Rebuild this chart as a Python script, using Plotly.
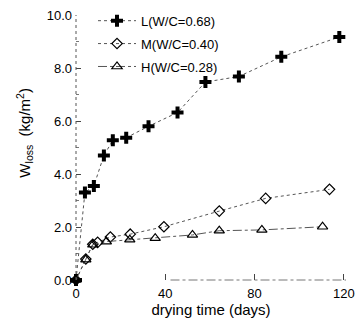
import plotly.graph_objects as go

# drying time (days) and mass loss (kg/m^2)
L_days = [0, 4, 8, 12.5, 16.5, 22.5, 32.5, 45.5, 58, 73, 92, 118]
L_loss = [0, 3.3, 3.55, 4.7, 5.27, 5.37, 5.8, 6.32, 7.47, 7.68, 8.42, 9.17]

M_days = [0, 4.4, 7.5, 9.7, 15.4, 24.3, 39.4, 64.2, 85, 113.6]
M_loss = [0, 0.79, 1.35, 1.42, 1.62, 1.73, 2.01, 2.6, 3.08, 3.42]

H_days = [0, 4.4, 7.5, 13.6, 24.1, 35.5, 52.2, 64.2, 83.3, 110.5]
H_loss = [0, 0.77, 1.33, 1.45, 1.52, 1.58, 1.7, 1.86, 1.89, 2.01]

names = ["L(W/C=0.68)", "M(W/C=0.40)", "H(W/C=0.28)"]
x_ticks = [0, 40, 80, 120]
y_ticks = [0, 2, 4, 6, 8, 10]
y_tick_text = ["0.0", "2.0", "4.0", "6.0", "8.0", "10.0"]

FONT = "Liberation Sans, Arial, sans-serif"

fig = go.Figure()
fig.add_trace(go.Scatter(
    x=L_days, y=L_loss, name=names[0], mode="lines+markers", legendgroup="L",
    line=dict(color="#555555", width=1, dash="dot"),
    marker=dict(symbol="cross", size=10, color="black", line=dict(width=0)),
    cliponaxis=False))
fig.add_trace(go.Scatter(
    x=M_days, y=M_loss, name=names[1], mode="lines+markers", legendgroup="M",
    line=dict(color="#555555", width=1, dash="dot"),
    marker=dict(symbol="diamond-open", size=8, color="black", line=dict(width=1.2)),
    cliponaxis=False))
fig.add_trace(go.Scatter(
    x=H_days, y=H_loss, name=names[2], mode="lines+markers", legendgroup="H",
    line=dict(color="#555555", width=1, dash="dashdot"),
    marker=dict(symbol="triangle-up-open", size=9, color="black", line=dict(width=1.2)),
    cliponaxis=False))

fig.update_layout(
    width=355, height=313,
    margin=dict(l=68, r=17, t=7, b=41, autoexpand=False),
    paper_bgcolor="white", plot_bgcolor="white",
    font=dict(family=FONT, size=13, color="black"),
    showlegend=True,
    legend=dict(x=0.063, y=1.035, xanchor="left", yanchor="top",
                bgcolor="rgba(0,0,0,0)", font=dict(size=13),
                itemwidth=38, tracegroupgap=3),
    xaxis=dict(range=[0, 121], tickvals=x_ticks, ticks="inside", ticklen=6,
               tickcolor="#444", showgrid=False, zeroline=False, showline=False,
               automargin=False, tickfont=dict(size=13), ticklabelstandoff=4,
               ticklabeloverflow="allow",
               title=dict(text="drying time (days)", font=dict(size=15), standoff=0)),
    yaxis=dict(range=[0, 10], tickvals=y_ticks, ticktext=y_tick_text,
               ticks="inside", ticklen=5, tickcolor="#444",
               minor=dict(ticks="inside", ticklen=3, dtick=1, tickcolor="#777"),
               showgrid=False, zeroline=False, showline=False, automargin=False,
               tickfont=dict(size=13), ticklabelstandoff=3,
               ticklabeloverflow="allow"),
)

# axis lines (dotted, as in the scanned figure)
fig.add_shape(type="line", xref="paper", yref="paper", x0=0, x1=0, y0=0, y1=1,
              line=dict(color="#555", width=1, dash="dot"))
fig.add_shape(type="line", xref="paper", yref="paper", x0=0.35, x1=1, y0=0, y1=0,
              line=dict(color="#777", width=1, dash="dashdot"))

fig.add_annotation(text="W<sub>loss</sub>  (kg/m<sup>2</sup>)", xref="paper", yref="paper",
                   x=-0.19, y=0.555, textangle=-90, showarrow=False,
                   font=dict(size=15, family=FONT), xanchor="center", yanchor="middle")

fig.write_html("out.html")
